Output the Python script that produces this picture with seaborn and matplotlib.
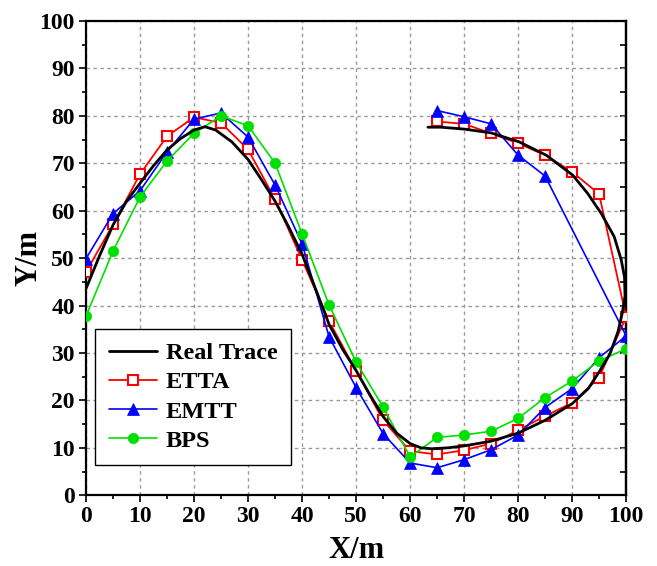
import matplotlib
matplotlib.use("Agg")
import matplotlib.pyplot as plt
import seaborn as sns
from matplotlib.ticker import MultipleLocator

# ---------------- data ----------------
real_x = [0, 2.5, 5, 7.5, 10, 12.5, 15, 17.5, 20, 22, 24, 27, 30, 32.5, 35, 37.5, 40,
          42.5, 45, 47.5, 50, 52.5, 55, 57.5, 60, 62, 64, 67, 70, 75, 80, 85, 90, 93,
          95, 97, 98.5, 99.3, 99.8, 99.7, 99.1, 97.8, 95.4, 92.9, 90.1, 85.2, 80.2,
          75, 70, 65.7, 63.3]
real_y = [43.6, 50.5, 57.0, 62.0, 65.8, 69.5, 72.8, 75.2, 77.0, 77.7, 77.0, 74.5, 70.8,
          66.5, 62.0, 56.6, 50.8, 43.5, 36.0, 30.8, 26.3, 21.3, 16.6, 13.1, 10.9, 10.0,
          9.8, 10.0, 10.4, 11.4, 13.1, 15.8, 19.3, 22.5, 26.0, 29.8, 34.5, 38.5, 42.0,
          46.0, 49.6, 54.5, 59.4, 63.6, 67.5, 71.7, 74.5, 76.4, 77.2, 77.6, 77.6]

etta_x = [0, 5, 10, 15, 20, 25, 30, 35, 40, 45, 50, 55, 60, 65, 70, 75, 80, 85, 90, 95,
          100, 95, 90, 85, 80, 75, 70, 65]
etta_y = [47.1, 57.1, 67.7, 75.7, 79.7, 78.5, 72.9, 62.4, 49.6, 36.7, 26.2, 15.8, 9.3,
          8.6, 9.5, 10.9, 13.7, 16.7, 19.5, 24.8, 37.6, 63.5, 68.2, 71.7, 74.2, 76.3,
          78.3, 78.8]

emtt_x = [0, 5, 10, 15, 20, 25, 30, 35, 40, 45, 50, 55, 60, 65, 70, 75, 80, 85, 90, 95,
          100, 85, 80, 75, 70, 65]
emtt_y = [49.9, 59.4, 64.2, 72.4, 79.3, 80.6, 75.5, 65.4, 53.0, 33.4, 22.7, 13.0, 6.8,
          5.8, 7.5, 9.6, 12.7, 18.5, 22.5, 29.0, 33.6, 67.3, 71.7, 78.3, 79.8, 81.1]

bps_x = [0, 5, 10, 15, 20, 25, 30, 35, 40, 45, 50, 55, 60, 65, 70, 75, 80, 85, 90, 95, 100]
bps_y = [37.8, 51.5, 62.9, 70.5, 76.3, 80.0, 77.9, 70.0, 55.1, 40.1, 28.1, 18.6, 8.1,
         12.2, 12.7, 13.5, 16.2, 20.6, 24.1, 28.3, 30.9]

x_ticks = [0, 10, 20, 30, 40, 50, 60, 70, 80, 90, 100]
y_ticks = [0, 10, 20, 30, 40, 50, 60, 70, 80, 90, 100]

# ---------------- style ----------------
sns.set_style("ticks")
plt.rcParams["font.family"] = ["Liberation Serif", "DejaVu Serif"]
plt.rcParams["font.weight"] = "bold"
plt.rcParams["axes.labelweight"] = "bold"
plt.rcParams["text.color"] = "black"
plt.rcParams["axes.labelcolor"] = "black"
plt.rcParams["xtick.color"] = "black"
plt.rcParams["ytick.color"] = "black"
plt.rcParams["axes.edgecolor"] = "black"

fig = plt.figure(figsize=(6.57, 5.66), dpi=100)
ax = fig.add_axes([0.131, 0.125, 0.822, 0.838])

RED = "#ff0000"
BLUE = "#0000ff"
GREEN = "#00e000"

sns.lineplot(x=real_x, y=real_y, sort=False, estimator=None, ax=ax, color="black",
             linewidth=2.0, label="Real Trace", zorder=6)
sns.lineplot(x=etta_x, y=etta_y, sort=False, estimator=None, ax=ax, color=RED,
             linewidth=1.3, marker="s", markersize=7, markerfacecolor="white",
             markeredgecolor=RED, markeredgewidth=1.5, label="ETTA", zorder=3)
sns.lineplot(x=emtt_x, y=emtt_y, sort=False, estimator=None, ax=ax, color=BLUE,
             linewidth=1.2, marker="^", markersize=8.5, markerfacecolor=BLUE,
             markeredgecolor=BLUE, markeredgewidth=0.5, label="EMTT", zorder=4)
sns.lineplot(x=bps_x, y=bps_y, sort=False, estimator=None, ax=ax, color=GREEN,
             linewidth=1.2, marker="o", markersize=7.5, markerfacecolor=GREEN,
             markeredgecolor=GREEN, markeredgewidth=0.5, label="BPS", zorder=5)

ax.set_xlim(0, 100)
ax.set_ylim(0, 100)
ax.set_xticks(x_ticks)
ax.set_yticks(y_ticks)
ax.xaxis.set_minor_locator(MultipleLocator(5))
ax.yaxis.set_minor_locator(MultipleLocator(5))
ax.set_xticklabels([str(t) for t in x_ticks], fontsize=17, fontweight="bold", color="black")
ax.set_yticklabels([str(t) for t in y_ticks], fontsize=17, fontweight="bold", color="black")

ax.grid(True, which="major", color="#999999", linestyle=(0, (2.5, 2.5)), linewidth=1.0)
ax.set_axisbelow(True)

for s in ax.spines.values():
    s.set_visible(True)
    s.set_linewidth(1.6)
    s.set_color("black")

ax.tick_params(axis="both", which="major", direction="out", length=5, width=1.2,
               colors="black", pad=3)
ax.tick_params(axis="both", which="minor", direction="out", length=3, width=1.2,
               colors="black")

# inward ticks on the right spine
sec = ax.secondary_yaxis("right")
sec.set_yticks(y_ticks)
sec.yaxis.set_minor_locator(MultipleLocator(5))
sec.tick_params(axis="y", which="both", direction="in", length=4, width=1.2,
                labelright=False, colors="black")
sec.spines["right"].set_linewidth(1.6)
sec.spines["right"].set_color("black")

ax.set_xlabel("X/m", fontsize=22, fontweight="bold", labelpad=6, color="black")
ax.set_ylabel("Y/m", fontsize=22, fontweight="bold", color="black")
ax.yaxis.set_label_coords(-0.078, 0.5)

leg = ax.legend(loc="lower left", bbox_to_anchor=(0.017, 0.063), borderaxespad=0,
                prop={"family": ["Liberation Serif"], "weight": "bold", "size": 17.5},
                frameon=True, fancybox=False, framealpha=1, edgecolor="black",
                handlelength=2.0, handletextpad=0.36, labelspacing=0.3,
                borderpad=0.55)
leg.get_frame().set_linewidth(1.0)
for t in leg.get_texts():
    t.set_color("black")

fig.savefig("out.png", dpi=100)
